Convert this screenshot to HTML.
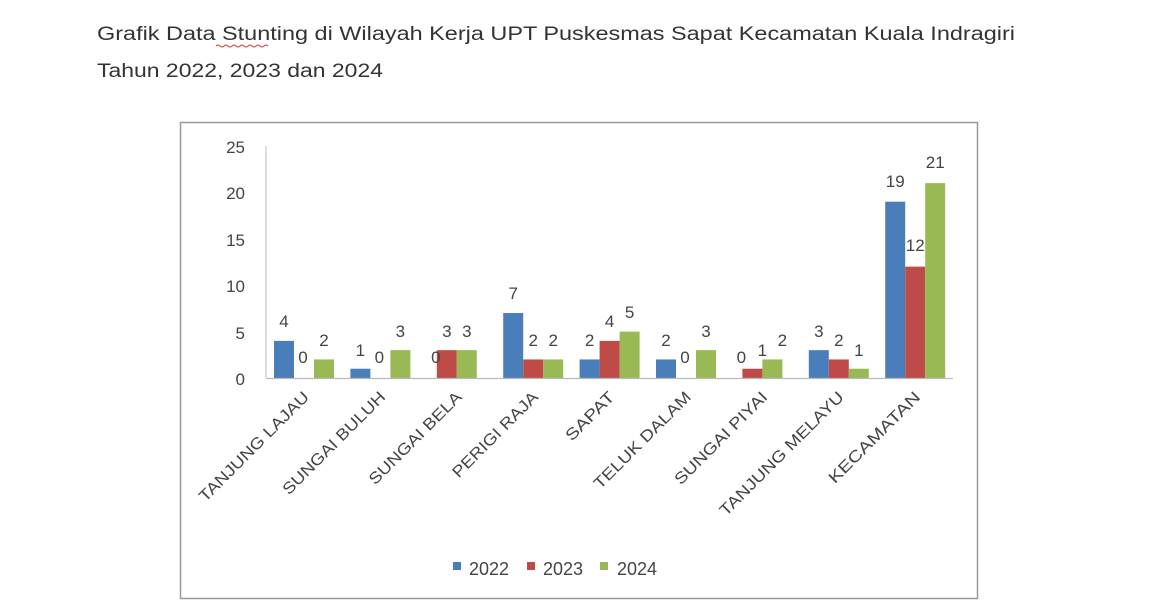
<!DOCTYPE html>
<html><head><meta charset="utf-8"><style>
html,body{margin:0;padding:0;background:#fff;width:1149px;height:600px;overflow:hidden}
svg{display:block}
text{font-family:"Liberation Sans","DejaVu Sans",sans-serif}
</style></head><body>
<svg width="1149" height="600" viewBox="0 0 1149 600" xmlns="http://www.w3.org/2000/svg">
<text x="97" y="40" font-size="19" fill="#333" textLength="918" lengthAdjust="spacingAndGlyphs">Grafik Data Stunting di Wilayah  Kerja UPT Puskesmas Sapat  Kecamatan  Kuala Indragiri</text>
<path d="M216 46 q2 -2 4 0 t4 0 t4 0 t4 0 t4 0 t4 0 t4 0 t4 0 t4 0 t4 0 t4 0 t4 0 t4 0" stroke="#d33" fill="none" stroke-width="1"/>
<text x="97" y="77" font-size="19" fill="#333" textLength="286" lengthAdjust="spacingAndGlyphs">Tahun 2022, 2023 dan 2024</text>
<rect x="180.5" y="122.5" width="797" height="476" fill="#fff" stroke="#999" stroke-width="1.5"/>
<line x1="266" y1="146" x2="266" y2="378" stroke="#bbb" stroke-width="1"/>
<g font-size="17" fill="#444" text-anchor="end">
<text x="245" y="385">0</text><text x="245" y="339">5</text><text x="245" y="292">10</text>
<text x="245" y="246">15</text><text x="245" y="199">20</text><text x="245" y="153">25</text>
</g>
<g>
<rect x="274" y="340.88" width="20" height="37.12" fill="#4a7ebb"/>
<rect x="314" y="359.44" width="20" height="18.56" fill="#98b954"/>
<rect x="350.4" y="368.72" width="20" height="9.28" fill="#4a7ebb"/>
<rect x="390.4" y="350.16" width="20" height="27.84" fill="#98b954"/>
<rect x="436.8" y="350.16" width="20" height="27.84" fill="#be4b48"/>
<rect x="456.8" y="350.16" width="20" height="27.84" fill="#98b954"/>
<rect x="503.2" y="313.04" width="20" height="64.96" fill="#4a7ebb"/>
<rect x="523.2" y="359.44" width="20" height="18.56" fill="#be4b48"/>
<rect x="543.2" y="359.44" width="20" height="18.56" fill="#98b954"/>
<rect x="579.6" y="359.44" width="20" height="18.56" fill="#4a7ebb"/>
<rect x="599.6" y="340.88" width="20" height="37.12" fill="#be4b48"/>
<rect x="619.6" y="331.6" width="20" height="46.4" fill="#98b954"/>
<rect x="656" y="359.44" width="20" height="18.56" fill="#4a7ebb"/>
<rect x="696" y="350.16" width="20" height="27.84" fill="#98b954"/>
<rect x="742.4" y="368.72" width="20" height="9.28" fill="#be4b48"/>
<rect x="762.4" y="359.44" width="20" height="18.56" fill="#98b954"/>
<rect x="808.8" y="350.16" width="20" height="27.84" fill="#4a7ebb"/>
<rect x="828.8" y="359.44" width="20" height="18.56" fill="#be4b48"/>
<rect x="848.8" y="368.72" width="20" height="9.28" fill="#98b954"/>
<rect x="885.2" y="201.68" width="20" height="176.32" fill="#4a7ebb"/>
<rect x="905.2" y="266.64" width="20" height="111.36" fill="#be4b48"/>
<rect x="925.2" y="183.12" width="20" height="194.88" fill="#98b954"/>
</g>
<line x1="266" y1="378.5" x2="953" y2="378.5" stroke="#bbb" stroke-width="1.2"/>
<g font-size="17" fill="#444" text-anchor="middle">
<text x="284" y="327">4</text><text x="303" y="363">0</text><text x="324" y="346">2</text>
<text x="360.4" y="356">1</text><text x="379.4" y="363">0</text><text x="400.4" y="337">3</text>
<text x="435.8" y="363">0</text><text x="446.8" y="337">3</text><text x="466.8" y="337">3</text>
<text x="513.2" y="299">7</text><text x="533.2" y="346">2</text><text x="553.2" y="346">2</text>
<text x="589.6" y="346">2</text><text x="609.6" y="327">4</text><text x="629.6" y="318">5</text>
<text x="666" y="346">2</text><text x="685" y="363">0</text><text x="706" y="337">3</text>
<text x="741.4" y="363">0</text><text x="762.4" y="356">1</text><text x="782.4" y="346">2</text>
<text x="818.8" y="337">3</text><text x="838.8" y="346">2</text><text x="858.8" y="356">1</text>
<text x="895.2" y="187">19</text><text x="915.2" y="251">12</text><text x="935.2" y="168">21</text>
</g>
<g font-size="16" fill="#444" text-anchor="end">
<text transform="translate(310,398) rotate(-45)" textLength="148" lengthAdjust="spacingAndGlyphs">TANJUNG LAJAU</text>
<text transform="translate(386.4,398) rotate(-45)" textLength="138" lengthAdjust="spacingAndGlyphs">SUNGAI BULUH</text>
<text transform="translate(462.8,398) rotate(-45)" textLength="124" lengthAdjust="spacingAndGlyphs">SUNGAI BELA</text>
<text transform="translate(539.2,398) rotate(-45)" textLength="114" lengthAdjust="spacingAndGlyphs">PERIGI RAJA</text>
<text transform="translate(615.6,398) rotate(-45)" textLength="62" lengthAdjust="spacingAndGlyphs">SAPAT</text>
<text transform="translate(692,398) rotate(-45)" textLength="130" lengthAdjust="spacingAndGlyphs">TELUK DALAM</text>
<text transform="translate(768.4,398) rotate(-45)" textLength="124" lengthAdjust="spacingAndGlyphs">SUNGAI PIYAI</text>
<text transform="translate(844.8,398) rotate(-45)" textLength="168" lengthAdjust="spacingAndGlyphs">TANJUNG MELAYU</text>
<text transform="translate(921.2,398) rotate(-45)" textLength="122" lengthAdjust="spacingAndGlyphs">KECAMATAN</text>
</g>
<rect x="453" y="562" width="8" height="8" fill="#4a7ebb"/><text x="469" y="575" font-size="18" fill="#444">2022</text>
<rect x="527" y="562" width="8" height="8" fill="#be4b48"/><text x="543" y="575" font-size="18" fill="#444">2023</text>
<rect x="600" y="562" width="8" height="8" fill="#98b954"/><text x="617" y="575" font-size="18" fill="#444">2024</text>
</svg>
</body></html>
